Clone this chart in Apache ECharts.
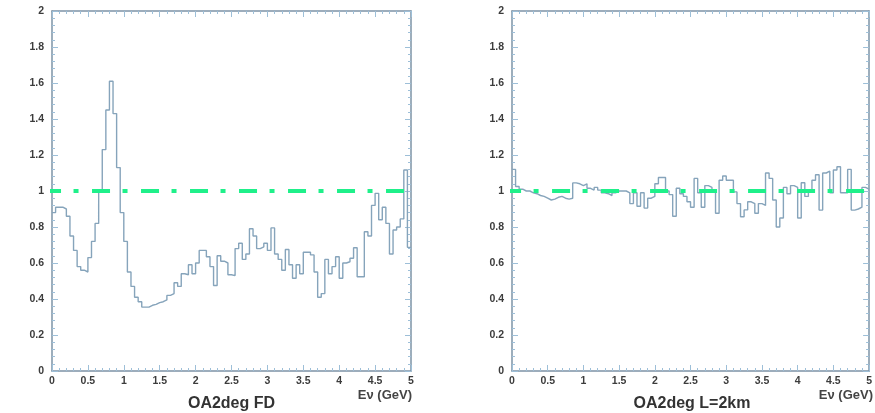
<!DOCTYPE html>
<html>
<head>
<meta charset="utf-8">
<title>OA2deg ratio</title>
<script src="https://cdn.jsdelivr.net/npm/echarts@6/dist/echarts.min.js"></script>
<style>
  html, body { margin: 0; padding: 0; background: #ffffff; }
  #chart { width: 875px; height: 413px; }
</style>
</head>
<body>
<div id="chart"></div>
<script>
// histogram: 100 bins of 0.05 GeV from 0 to 5 GeV
const binWidth = 0.05
const eMax = 5

// ratio at the far detector
const fdRatio = [
  0.88, 0.91, 0.91, 0.90, 0.86, 0.75, 0.67, 0.58, 0.56, 0.55,
  0.63, 0.72, 0.82, 1.00, 1.23, 1.45, 1.61, 1.43, 1.13, 0.88,
  0.72, 0.55, 0.47, 0.41, 0.385, 0.355, 0.355, 0.365, 0.37, 0.38,
  0.385, 0.395, 0.42, 0.43, 0.49, 0.47, 0.54, 0.535, 0.59, 0.54,
  0.60, 0.67, 0.67, 0.635, 0.58, 0.475, 0.64, 0.61, 0.60, 0.535,
  0.53, 0.68, 0.71, 0.62, 0.65, 0.79, 0.75, 0.68, 0.69, 0.71,
  0.67, 0.795, 0.65, 0.62, 0.56, 0.675, 0.59, 0.515, 0.59, 0.54,
  0.66, 0.66, 0.645, 0.55, 0.41, 0.43, 0.62, 0.54, 0.58, 0.635,
  0.515, 0.60, 0.607, 0.626, 0.685, 0.524, 0.524, 0.774, 0.75, 0.92,
  0.987, 0.84, 0.91, 0.82, 0.65, 0.783, 0.80, 0.845, 1.117, 0.687
]

// ratio at L = 2 km
const nearRatio = [
  1.12, 1.025, 1.01, 1.00, 1.00, 0.99, 0.985, 0.975, 0.97, 0.96,
  0.95, 0.955, 0.965, 0.97, 0.96, 0.955, 0.96, 1.045, 1.04, 1.03,
  1.04, 1.015, 1.005, 1.02, 1.005, 0.99, 0.985, 0.975, 0.99, 1.00,
  1.00, 1.00, 0.99, 0.93, 0.99, 0.915, 0.99, 0.905, 0.96, 0.97,
  1.04, 1.075, 1.075, 1.00, 0.98, 0.86, 1.015, 0.985, 0.97, 0.94,
  0.91, 1.07, 0.99, 0.91, 1.03, 1.02, 1.005, 0.876, 1.06, 1.083,
  1.06, 1.06, 0.995, 0.93, 0.857, 0.895, 0.94, 0.93, 0.876, 0.93,
  0.92, 1.10, 1.07, 0.95, 0.80, 0.85, 1.02, 0.985, 1.03, 1.02,
  0.85, 1.046, 0.97, 1.00, 1.06, 1.09, 0.894, 1.10, 1.11, 0.99,
  1.117, 1.135, 0.99, 0.99, 1.12, 0.894, 0.90, 0.91, 1.02, 1.01
]

// green dash-dot reference line at ratio = 1
const fdUnity = [[-0.125, 1], [4.92, 1]]
const nearUnity = [[-0.125, 1], [5.0, 1]]

const panelTitles = ['OA2deg FD', 'OA2deg L=2km']
const energyLabel = 'E\u03bd (GeV)'

const frameColor = '#7d93a6'
const tickColor = '#9dbfd8'
const histColor = '#86a4bb'
const unityColor = '#1ff08a'
const labelFont = 'Liberation Sans, Arial, sans-serif'

const toSteps = vals => {
  const pts = vals.map((v, i) => [i * binWidth, v])
  pts.push([eMax, vals[vals.length - 1]])
  return pts
}

const makeAxis = (gridIndex, position, isX) => {
  const showLabel = position === 'bottom' || position === 'left'
  return {
    type: 'value',
    gridIndex,
    position,
    min: 0,
    max: isX ? 5 : 2,
    interval: isX ? 0.5 : 0.2,
    axisLine: { show: true, onZero: false, lineStyle: { color: frameColor, width: 1.5 } },
    axisTick: { show: true, inside: true, length: 6, lineStyle: { color: tickColor, width: 1 } },
    minorTick: { show: true, splitNumber: 5, length: 3, lineStyle: { color: tickColor, width: 1 } },
    splitLine: { show: false },
    axisLabel: {
      show: showLabel,
      fontSize: 10.5,
      fontWeight: 'bold',
      fontFamily: labelFont,
      color: '#3c3c3c',
      margin: isX ? 5 : 8
    }
  }
}

const chart = echarts.init(document.getElementById('chart'))

const grids = [
  { left: 52, top: 11, width: 359, height: 360 },
  { left: 512, top: 11, width: 360, height: 360 }
]

const xAxes = []
const yAxes = []
grids.forEach((g, i) => {
  xAxes.push(makeAxis(i, 'bottom', true), makeAxis(i, 'top', true))
  yAxes.push(makeAxis(i, 'left', false), makeAxis(i, 'right', false))
})

const histSeries = (vals, idx) => ({
  type: 'line',
  xAxisIndex: idx * 2,
  yAxisIndex: idx * 2,
  data: toSteps(vals),
  step: 'end',
  showSymbol: false,
  symbol: 'none',
  lineStyle: { color: histColor, width: 1.4 },
  z: 3
})

const unitySeries = (pts, idx) => ({
  type: 'line',
  xAxisIndex: idx * 2,
  yAxisIndex: idx * 2,
  data: pts,
  clip: false,
  showSymbol: false,
  symbol: 'none',
  lineStyle: { color: unityColor, width: 4, type: [18, 12.5, 5, 13.5], cap: 'butt' },
  z: 5
})

const titles = []
grids.forEach((g, i) => {
  titles.push({
    text: panelTitles[i],
    left: g.left + g.width / 2,
    top: 396,
    padding: 0,
    textAlign: 'center',
    textStyle: { fontSize: 16, fontWeight: 'bold', fontFamily: labelFont, color: '#333' }
  })
  titles.push({
    text: energyLabel,
    left: g.left + g.width + 1,
    top: 389,
    padding: 0,
    textAlign: 'right',
    textStyle: { fontSize: 13, fontWeight: 'bold', fontFamily: labelFont, color: '#444' }
  })
})

const option = {
  backgroundColor: '#ffffff',
  animation: false,
  title: titles,
  grid: grids,
  xAxis: xAxes,
  yAxis: yAxes,
  series: [
    histSeries(fdRatio, 0),
    histSeries(nearRatio, 1),
    unitySeries(fdUnity, 0),
    unitySeries(nearUnity, 1)
  ]
}

chart.setOption(option)
</script>
</body>
</html>
